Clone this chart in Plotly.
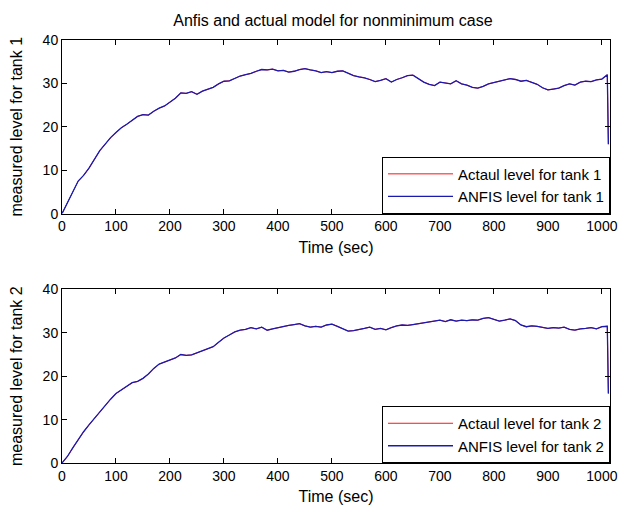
import plotly.graph_objects as go

t = [i * 10 for i in range(102)] + [1012]

tank1_actual = [0, 2.5, 5, 7.5, 8.8, 10.5, 12.5, 14.5, 16, 17.5,
                18.7, 19.8, 20.6, 21.5, 22.4, 22.8, 22.7, 23.6, 24.3, 24.8,
                25.6, 26.6, 27.8, 27.7, 28.1, 27.5, 28.2, 28.6, 29.1, 29.9,
                30.5, 30.6, 31.2, 31.7, 32.0, 32.3, 32.8, 33.2, 33.1, 33.3,
                32.9, 33.0, 32.6, 32.8, 33.2, 33.4, 33.1, 32.9, 32.5, 32.7,
                32.5, 32.8, 32.9, 32.3, 31.8, 31.5, 31.3, 30.9, 30.4, 30.7,
                31.1, 30.3, 30.9, 31.3, 31.8, 31.9, 31.0, 30.3, 29.8, 29.5,
                30.3, 30.1, 29.9, 30.6, 29.9, 29.6, 29.1, 28.9, 29.3, 29.9,
                30.2, 30.5, 30.8, 31.1, 30.9, 30.5, 30.7, 30.3, 29.8, 29.0,
                28.5, 28.7, 28.9, 29.5, 29.9, 29.6, 30.3, 30.5, 30.4, 30.8,
                31.0, 32.0, 16.0]
tank1_anfis = list(tank1_actual)

tank2_actual = [0, 1.5, 3.5, 5.5, 7.2, 8.8, 10.3, 11.7, 13.3, 14.7,
                16.0, 16.8, 17.8, 18.5, 18.8, 19.5, 20.5, 21.8, 22.8, 23.3,
                23.7, 24.2, 25.0, 24.8, 24.9, 25.4, 25.8, 26.4, 26.8, 27.8,
                28.8, 29.5, 30.2, 30.6, 30.8, 31.2, 30.9, 31.3, 30.6, 30.9,
                31.2, 31.5, 31.7, 31.9, 32.1, 31.6, 31.3, 31.5, 31.3, 31.8,
                32.0, 31.5, 30.9, 30.4, 30.5, 30.7, 31.0, 31.3, 30.8, 31.0,
                30.7, 31.2, 31.6, 31.8, 31.7, 31.9, 32.1, 32.3, 32.6, 32.8,
                32.9, 32.6, 33.0, 32.7, 32.9, 32.8, 33.0, 32.9, 33.3, 33.5,
                33.1, 32.7, 32.9, 33.2, 32.8, 31.8, 31.4, 31.6, 31.5, 31.2,
                31.0, 31.2, 31.1, 31.3, 30.8, 30.6, 30.9, 31.0, 31.2, 30.9,
                31.4, 31.5, 16.0]
tank2_anfis = list(tank2_actual)

x_ticks = [0, 100, 200, 300, 400, 500, 600, 700, 800, 900, 1000]
y_ticks = [0, 10, 20, 30, 40]

RED = "#ff1010"
BLUE = "#1a1ab0"
FONT = "Liberation Sans, Arial, sans-serif"

fig = go.Figure()
fig.add_trace(go.Scatter(x=t, y=tank1_actual, mode="lines", name="Actaul level for tank 1",
                         line=dict(color=RED, width=1), xaxis="x", yaxis="y", legend="legend"))
fig.add_trace(go.Scatter(x=t, y=tank1_anfis, mode="lines", name="ANFIS level for tank 1",
                         line=dict(color=BLUE, width=1.3), xaxis="x", yaxis="y", legend="legend"))
fig.add_trace(go.Scatter(x=t, y=tank2_actual, mode="lines", name="Actaul level for tank 2",
                         line=dict(color=RED, width=1), xaxis="x2", yaxis="y2", legend="legend2"))
fig.add_trace(go.Scatter(x=t, y=tank2_anfis, mode="lines", name="ANFIS level for tank 2",
                         line=dict(color=BLUE, width=1.3), xaxis="x2", yaxis="y2", legend="legend2"))

axis_common = dict(showline=True, linecolor="black", linewidth=1, mirror="ticks",
                   ticks="inside", ticklen=5, tickcolor="black", showgrid=False, zeroline=False,
                   automargin=False,
                   tickfont=dict(family=FONT, size=14, color="black"))

legend_common = dict(xanchor="right", yanchor="bottom", bgcolor="white",
                     bordercolor="black", borderwidth=1, font=dict(size=15, family=FONT),
                     tracegroupgap=0, itemwidth=65)

fig.update_layout(
    width=627, height=507,
    margin=dict(l=62, r=17, t=40, b=44),
    paper_bgcolor="white", plot_bgcolor="white",
    font=dict(family=FONT, color="black"),
    showlegend=True,
    xaxis=dict(domain=[0, 1], range=[0, 1015], tickvals=x_ticks, anchor="y",
               title=dict(text="Time (sec)", font=dict(size=16), standoff=8), **axis_common),
    yaxis=dict(domain=[0.5896, 1], range=[0, 40], tickvals=y_ticks, anchor="x",
               title=dict(text="measured level for tank 1", font=dict(size=16), standoff=16), **axis_common),
    xaxis2=dict(domain=[0, 1], range=[0, 1015], tickvals=x_ticks, anchor="y2",
                title=dict(text="Time (sec)", font=dict(size=16), standoff=8), **axis_common),
    yaxis2=dict(domain=[0, 0.4104], range=[0, 40], tickvals=y_ticks, anchor="x2",
                title=dict(text="measured level for tank 2", font=dict(size=16), standoff=16), **axis_common),
    legend=dict(x=1, y=0.5896, **legend_common),
    legend2=dict(x=1, y=0, **legend_common),
    title=dict(text="Anfis and actual model for nonminimum case", x=0.531, xanchor="center",
               y=0.96, yanchor="middle", font=dict(size=16, family=FONT)),
)

fig.write_html("out.html")
